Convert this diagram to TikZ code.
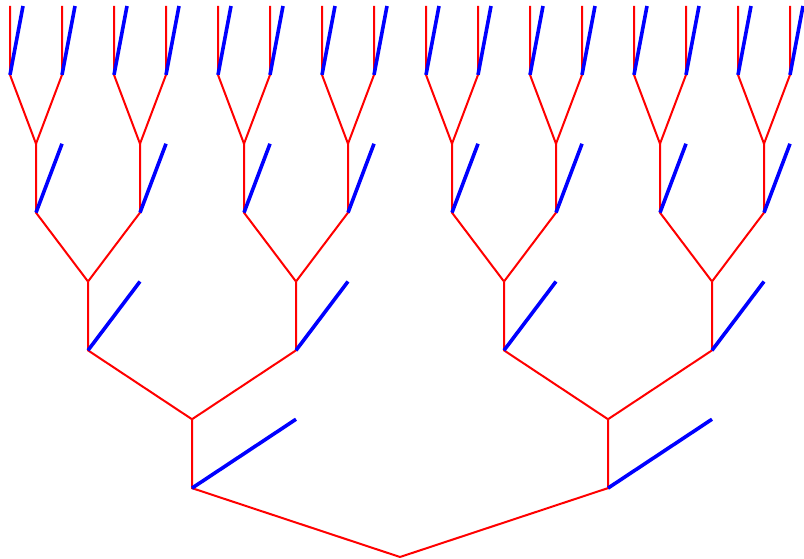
\documentclass[tikz,border=0pt]{standalone}
\begin{document}
\begin{tikzpicture}[x=1pt,y=-1pt,
  redline/.style={red, line width=2pt},
  blueline/.style={blue, line width=3.6pt}]
\useasboundingbox (0,0) rectangle (804,559);
\def\h{68.875}
\coordinate (P-0-0) at (400,557);
\foreach \L in {0,...,3}{
  \pgfmathtruncatemacro\n{2^\L-1}
  \pgfmathsetmacro\d{208/2^\L}
  \pgfmathtruncatemacro\Lp{\L+1}
  \foreach \i in {0,...,\n}{
    \foreach \b in {0,1}{
      \pgfmathtruncatemacro\j{2*\i+\b}
      \pgfmathsetmacro\s{2*\b-1}
      \path (P-\L-\i) ++(\s*\d,-\h) coordinate (C-\L-\j);
      \path (C-\L-\j) ++(0,-\h) coordinate (P-\Lp-\j);
      \path (C-\L-\j) ++(\d/2,-\h) coordinate (T-\L-\j);
      \draw[redline] (P-\L-\i) -- (C-\L-\j) -- (P-\Lp-\j);
      \draw[blueline] (C-\L-\j) -- (T-\L-\j);
    }
  }
}
\end{tikzpicture}
\end{document}
